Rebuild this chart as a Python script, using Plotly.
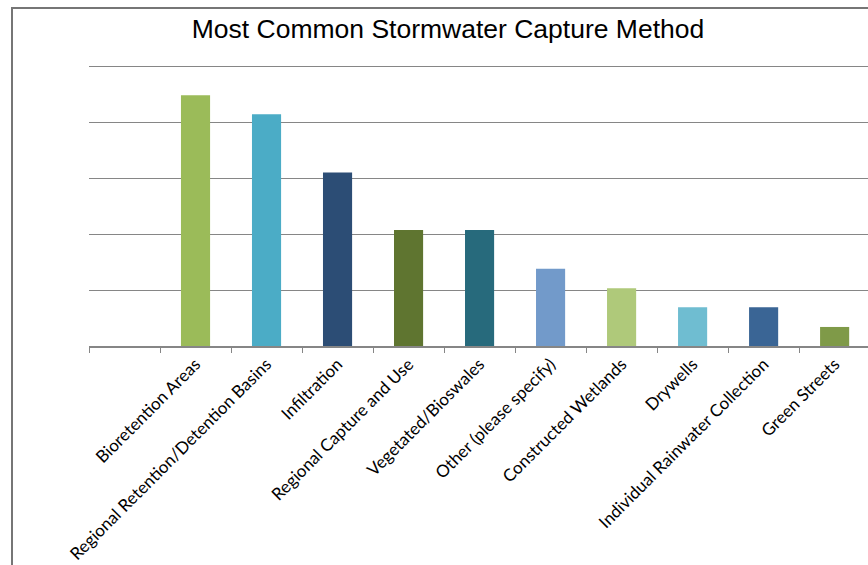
import plotly.graph_objects as go

categories = ["Bioretention Areas", "Regional Retention/Detention Basins", "Infiltration",
              "Regional Capture and Use", "Vegetated/Bioswales", "Other (please specify)",
              "Constructed Wetlands", "Drywells", "Individual Rainwater Collection", "Green Streets"]
values = [44.8, 41.4, 31.0, 20.7, 20.7, 13.8, 10.3, 6.9, 6.9, 3.4]
colors = ["#9BBB59", "#4BACC6", "#2C4D75", "#5F7530", "#276A7C", "#729ACA",
          "#AFC97A", "#6FBDD1", "#3A6595", "#7F9A48"]

blank = " "
xcats = [blank] + categories

fig = go.Figure()
fig.add_trace(go.Bar(x=xcats, y=[None] + values,
                     marker=dict(color=["rgba(0,0,0,0)"] + colors, line=dict(width=0)),
                     width=0.41, showlegend=False))

fig.update_layout(
    width=868, height=565,
    margin=dict(l=89, r=0, t=64, b=219, autoexpand=False),
    paper_bgcolor="white", plot_bgcolor="white",
    title=dict(text="Most Common Stormwater Capture Method", x=448/868, xanchor="center",
               y=1-29/565, yanchor="middle",
               font=dict(family="Liberation Sans, Arial", size=26.5, color="#000000")),
    xaxis=dict(type="category", categoryorder="array", categoryarray=xcats, automargin=False,
               range=[-0.5, 10.47], tickson="boundaries", ticks="outside", ticklen=5,
               tickcolor="#868686", showline=True, linecolor="#868686", linewidth=1.5,
               showgrid=False, tickangle=-45,
               tickfont=dict(family="Lato, Open Sans", size=17, color="#000000")),
    yaxis=dict(range=[0, 50.36], tick0=0, dtick=10, showticklabels=False, showgrid=True,
               automargin=False,
               gridcolor="#868686", gridwidth=1, zeroline=False, ticks=""),
    shapes=[dict(type="rect", xref="paper", yref="paper",
                 x0=(12-89)/779, x1=1.1, y0=-1.0, y1=(346-8)/282,
                 line=dict(color="#767676", width=2), fillcolor="rgba(0,0,0,0)", layer="below")],
)

fig.write_html("out.html")
